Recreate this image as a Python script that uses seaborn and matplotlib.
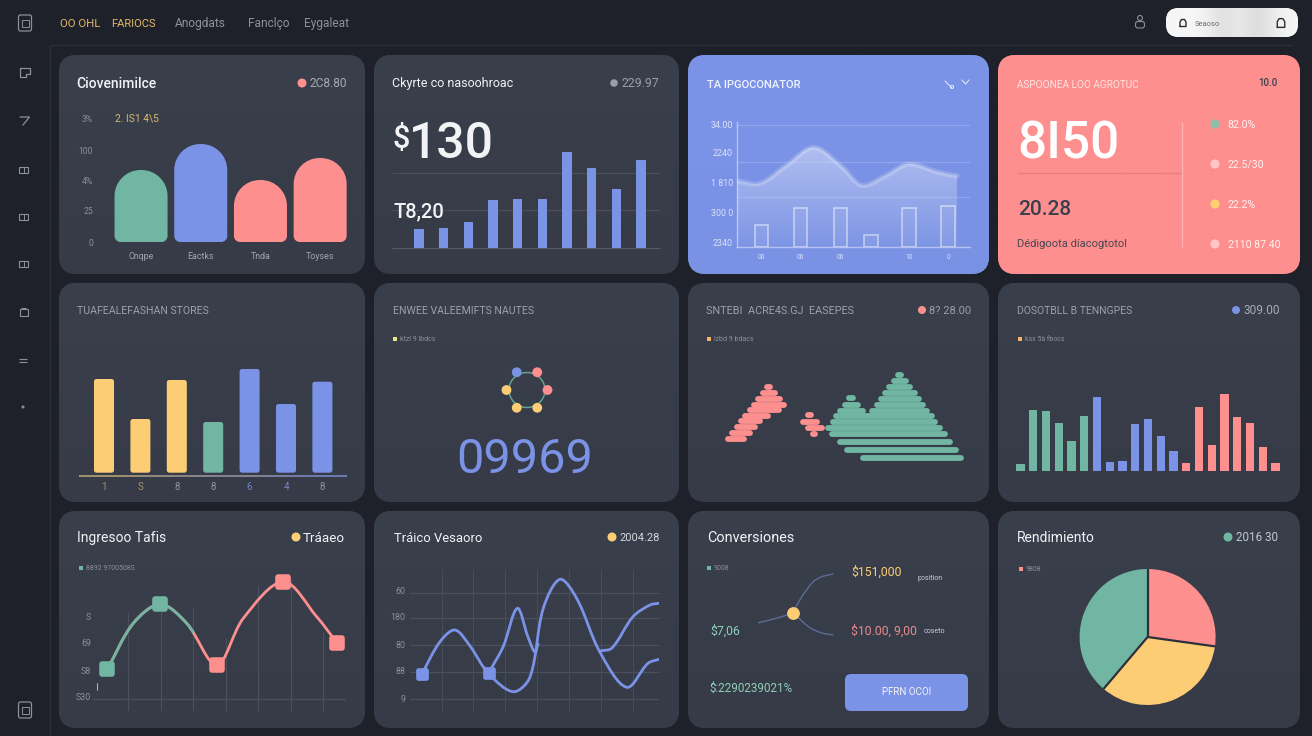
import numpy as np
import matplotlib
matplotlib.use("Agg")
import matplotlib.pyplot as plt
import seaborn as sns
from matplotlib.patches import FancyBboxPatch, PathPatch, Rectangle, Circle
from matplotlib.path import Path

sns.set_theme(style="dark")
plt.rcParams["font.family"] = ["Roboto", "DejaVu Sans"]
plt.rcParams["axes.unicode_minus"] = False

W, H = 1312, 736
BG = "#1e2129"
CARD_T, CARD_B = "#3a3f4c", "#363b47"
BLUE, CORAL, GREEN, YELLOW = "#7b93e6", "#fe8f8f", "#70b6a2", "#fccd74"
GRAY, WHITE, GRID = "#9aa0ab", "#f2f3f5", "#4b505d"

# ---------- data ----------
conv_cats = ["Cnqpe", "Eactks", "Tnda", "Toyses"]
conv_vals = [72, 98, 62, 84]
conv_ticks = [0, 31, 61, 92, 124]
conv_tick_labels = ["0", "25", "4%", "100", "3%"]

ckyrte_cats = list("abcdefghij")
ckyrte_vals = [19, 20, 26, 48, 49, 49, 96, 80, 59, 88]

area_x = [0, 2.3, 5, 7.7, 10.5, 12.5, 15, 17.2, 20, 22]
area_vals = [66, 63.5, 82, 99.5, 80, 61.5, 72, 83, 75, 71]
pulse_x = [2.47, 6.38, 10.35, 13.4, 17.2, 21.1]
pulse_vals = [22, 39, 39, 12, 39, 41]
area_ticks = [123, 95, 64, 34, 4]
area_tick_labels = ["34.00", "2240", "1 810", "300 0", "2340"]
pulse_ticks = [2.47, 6.38, 10.35, 17.2, 21.1]
pulse_tick_labels = ["00", "00", "00", "10", "0"]

store_cats = ["1", "S", "8", "8 ", "6", "4", "8  "]
store_vals = [93.7, 53.7, 92.7, 50.7, 103.7, 68.7, 91]
store_cols = [YELLOW, YELLOW, YELLOW, GREEN, BLUE, BLUE, BLUE]
store_tick_cols = ["#a9946c", "#a9946c", "#8f939e", "#8f939e", "#7386c8", "#7386c8", "#8f939e"]

ring_angles = [120, 60, 0, 180, 240, 300]
ring_cols = [BLUE, CORAL, CORAL, YELLOW, YELLOW, YELLOW]

green_rows = [375, 381, 387, 393, 399, 405, 411, 416, 422, 428, 434, 442, 450, 458]
green_rows2 = [398, 405, 411]
green_start = [895.5, 891, 886, 882, 878, 874, 869, 833, 830, 825.5, 829, 837.5, 844.6, 860]
green_stop = [903.5, 908, 912.5, 917, 921, 925, 929.5, 934, 937.7, 942.7, 947, 952.7, 958.5, 963.5]
green_start2 = [846, 842.3, 837.5]
green_stop2 = [855.5, 860, 865.4]
coral_rows = [387, 393, 398.7, 404.7, 410, 415.7, 421.3, 427.3, 433.3, 439, 415.3, 421.7, 427.7, 434]
coral_start = [764.4, 760, 755, 751, 747, 742.7, 738.6, 734, 729.4, 725, 805, 800, 805, 810.5]
coral_stop = [772, 777, 782, 786, 781, 770, 762, 757, 752, 746, 813, 819, 824, 817]

spark_cats = [f"b{i}" for i in range(21)]
spark_vals = [7, 61, 60, 47.7, 29.7, 55.3, 74, 8.7, 9.7, 47.3, 51.7, 35.3, 19.7, 7.7, 64, 26.3, 76.7, 54, 48, 23.7, 8]
spark_cols = [GREEN] * 6 + [BLUE] * 7 + [CORAL] * 8

ing_x = [107.3, 133.3, 160.3, 186.7, 216.7, 243.3, 283.3, 316.7, 337.3]
ing_vals = [29.7, 75.7, 94.7, 75.7, 34, 80.7, 117.3, 82.3, 55.7]
ing_grid_x = [128.3, 160.7, 193.3, 225.7, 258.3, 290.7, 323.3]
ing_grid_top = [86.7, 98, 90.7, 61.3, 114, 120, 67]
ing_nodes_x = [107.3, 160.3, 216.7, 283.3, 337.3]
ing_nodes_y = [29.7, 94.7, 34, 117.3, 55.7]
ing_node_cols = [GREEN, GREEN, CORAL, CORAL, CORAL]
ing_ticks = [83, 56, 29, 2]
ing_tick_labels = ["S", "69", "S8", "S30"]

tr_x = [421.7, 440, 455, 470, 488.3, 513.3, 530, 543.3, 560, 577, 600, 626.7, 648, 659]
tr_y = [24.7, 57.3, 69, 53, 25.7, 7.3, 22, 90.7, 119.7, 100, 46.7, 11.7, 35.7, 39.7]
spike_x = [488.3, 503, 517.3, 528, 535, 538]
spike_y = [25.7, 52, 90.7, 62, 46.7, 55]
upper_x = [600, 612, 633, 650, 659]
upper_y = [48, 51, 82.3, 94, 95.7]
tr_nodes_x = [421.7, 489.3]
tr_nodes_y = [24.7, 25.7]
tr_grid_h = [106, 80.7, 54, 26.7, 0]
tr_grid_v = [441.7, 473.3, 505.3, 537.3, 569.3, 601.3, 633.3]
tr_ticks = [108, 82, 55, 28, 1]
tr_tick_labels = ["60", "180", "80", "88", "9"]

fl_a_x, fl_a_y = [758.6, 781, 793], [622.7, 617, 612.7]
fl_b_x, fl_b_y = [793, 801, 813, 821, 833], [612.7, 598, 582, 577, 574]
fl_c_x, fl_c_y = [793, 809, 821, 833], [612.7, 627, 632.7, 635]

pie_vals = [27.2, 34.0, 38.8]
pie_cols = [CORAL, YELLOW, GREEN]

# ---------- helpers ----------
fig = plt.figure(figsize=(W / 100, H / 100), dpi=100, facecolor=BG)
bg = fig.add_axes([0, 0, 1, 1], zorder=-1)
bg.set_xlim(0, W); bg.set_ylim(H, 0); bg.axis("off")


def T(x, y, s, size=8, color=GRAY, ha="left", weight="normal", **kw):
    base = y + 0.355 * size * 100 / 72
    return fig.text(x / W, 1 - base / H, s, fontsize=size, color=color, ha=ha, va="baseline",
                    fontweight=weight, zorder=20, **kw)


def panel(x0, y0, x1, y1, xlim=None, ylim=None):
    ax = fig.add_axes([x0 / W, 1 - y1 / H, (x1 - x0) / W, (y1 - y0) / H], zorder=5)
    ax.patch.set_alpha(0)
    for s in ax.spines.values():
        s.set_visible(False)
    ax.grid(False)
    if xlim: ax.set_xlim(*xlim)
    if ylim: ax.set_ylim(*ylim)
    ax.tick_params(length=0)
    return ax


def tidy(ax, xlim, ylim):
    ax.set_xlim(*xlim); ax.set_ylim(*ylim)
    ax.set_xlabel(""); ax.set_ylabel("")
    ax.set_xticks([]); ax.set_yticks([])


def smooth_path(ax, x, y):
    """Bezier path through the read points, in data coordinates."""
    P = ax.transData.transform(np.column_stack([x, y]))
    d = np.hypot(*np.diff(P, axis=0).T)
    t = np.concatenate([[0], np.cumsum(d)])
    m = np.zeros_like(P)
    m[1:-1] = (P[2:] - P[:-2]) / (t[2:] - t[:-2])[:, None]
    m[0] = (P[1] - P[0]) / d[0]
    m[-1] = (P[-1] - P[-2]) / d[-1]
    v, c = [P[0]], [Path.MOVETO]
    for i in range(len(P) - 1):
        v += [P[i] + m[i] * d[i] / 3, P[i + 1] - m[i + 1] * d[i] / 3, P[i + 1]]
        c += [Path.CURVE4] * 3
    return np.array(ax.transData.inverted().transform(np.array(v))), c


def smooth_line(ax, x, y, color, lw, zorder=3):
    """Lines are drawn by seaborn's lineplot and then given a rounded (spline) shape."""
    sns.lineplot(x=x, y=y, color=color, lw=lw, sort=False, errorbar=None, ax=ax, zorder=zorder)
    ax.lines[-1].remove()
    v, c = smooth_path(ax, x, y)
    patch = PathPatch(Path(v, c), fc="none", ec=color, lw=lw, capstyle="round", joinstyle="round", zorder=zorder)
    ax.add_patch(patch)
    return patch


def gcard(x0, y0, x1, y1, top, bottom, r=18):
    box = FancyBboxPatch((x0, y0), x1 - x0, y1 - y0, boxstyle=f"round,pad=0,rounding_size={r}",
                         fc=top, ec="none", zorder=2)
    bg.add_patch(box)
    c0 = np.array(matplotlib.colors.to_rgb(top)); c1 = np.array(matplotlib.colors.to_rgb(bottom))
    g = np.linspace(0, 1, 64)[:, None, None] * (c1 - c0)[None, None, :] + c0[None, None, :]
    im = bg.imshow(g, extent=(x0, x1, y1, y0), aspect="auto", zorder=2.1, interpolation="bilinear")
    im.set_clip_path(box)
    bg.set_xlim(0, W); bg.set_ylim(H, 0)


def round_bars(ax, box_w, box_h, rtop, rbot):
    xl, yl = ax.get_xlim(), ax.get_ylim()
    sx = abs(xl[1] - xl[0]) / box_w
    sy = abs(yl[1] - yl[0]) / box_h
    k = 0.5523
    for p in list(ax.patches):
        x, y, w, h = p.get_x(), p.get_y(), p.get_width(), p.get_height()
        rtx = min(rtop * sx, w / 2); rty = min(rtop * sy, h / 2)
        rbx = min(rbot * sx, w / 2); rby = min(rbot * sy, h / 2)
        v = [(x + rbx, y), (x + w - rbx, y),
             (x + w - rbx + k * rbx, y), (x + w, y + rby - k * rby), (x + w, y + rby),
             (x + w, y + h - rty),
             (x + w, y + h - rty + k * rty), (x + w - rtx + k * rtx, y + h), (x + w - rtx, y + h),
             (x + rtx, y + h),
             (x + rtx - k * rtx, y + h), (x, y + h - rty + k * rty), (x, y + h - rty),
             (x, y + rby),
             (x, y + rby - k * rby), (x + rbx - k * rbx, y), (x + rbx, y), (x + rbx, y)]
        c = [Path.MOVETO, Path.LINETO, Path.CURVE4, Path.CURVE4, Path.CURVE4, Path.LINETO,
             Path.CURVE4, Path.CURVE4, Path.CURVE4, Path.LINETO, Path.CURVE4, Path.CURVE4, Path.CURVE4,
             Path.LINETO, Path.CURVE4, Path.CURVE4, Path.CURVE4, Path.CLOSEPOLY]
        new = PathPatch(Path(v, c), fc=p.get_facecolor(), ec="none", zorder=3)
        p.remove()
        ax.add_patch(new)


def hdr_dot(x, y, col, r=4.5):
    bg.add_patch(Circle((x, y), r, fc=col, ec="none", zorder=6))


def legend_sq(x, y, col, s, tx=None):
    bg.add_patch(Rectangle((x - 2, y - 2), 4, 4, fc=col, ec="none", zorder=6))
    T(tx if tx else x + 5, y, s, size=5, color="#8a8f9b")


def hline(x0, x1, y, col=GRID, lw=0.8, alpha=1):
    bg.plot([x0, x1], [y, y], color=col, lw=lw, alpha=alpha, zorder=3, solid_capstyle="butt")


def vline(x, y0, y1, col=GRID, lw=0.8, alpha=1):
    bg.plot([x, x], [y0, y1], color=col, lw=lw, alpha=alpha, zorder=3, solid_capstyle="butt")


def round_markers(ax, n, lw=3.6):
    for col in ax.collections:
        if col.get_offsets().shape[0] == n:
            col.set_edgecolor(col.get_facecolor()); col.set_linewidth(lw); col.set_joinstyle("round")


# ---------- chrome ----------
hline(50, 1293, 45, "#2a2d36", 1)
vline(50, 45, 736, "#2a2d36", 1)
ICON = "#8b9099"
for cy in (23, 710):
    bg.add_patch(FancyBboxPatch((18.5, cy - 8), 13, 16, boxstyle="round,pad=0,rounding_size=2", fc="none", ec=ICON, lw=0.9, zorder=3))
    bg.add_patch(Rectangle((21.5, cy - 3), 7, 7, fc="none", ec=ICON, lw=0.7, zorder=3))
bg.plot([20, 29.5, 29.5, 26, 26, 20, 20], [68, 68, 74, 74, 77, 77, 68], color=ICON, lw=0.9, zorder=3)
bg.plot([20, 29.5, 23], [117, 117, 125], color=ICON, lw=0.9, zorder=3)
for cy in (169.5, 217, 264):
    bg.add_patch(Rectangle((19, cy - 3), 9, 6, fc="none", ec=ICON, lw=0.8, zorder=3))
    vline(23.5, cy - 3, cy + 3, ICON, 0.7)
bg.add_patch(Rectangle((19.5, 309), 8, 7, fc="none", ec=ICON, lw=0.8, zorder=3))
hline(21, 26, 308, ICON, 0.8)
hline(19, 27, 358.5, ICON, 0.8)
hline(19, 27, 361.5, ICON, 0.8)
bg.add_patch(Circle((23, 407), 1.5, fc=ICON, ec="none", zorder=3))

T(60, 23, "OO OHL", size=8.2, color="#e3b868")
T(111, 23, "FARIOCS", size=8, color="#e3b868")
T(175, 23, "Anogdats", size=8.6, color="#8c919b")
T(248, 23, "Fanclço", size=8.6, color="#8c919b")
T(304, 23, "Eygaleat", size=8.6, color="#8c919b")

bg.add_patch(Circle((1140, 18), 2.5, fc="none", ec=ICON, lw=0.8, zorder=3))
bg.add_patch(FancyBboxPatch((1135.5, 21.5), 9, 6.5, boxstyle="round,pad=0,rounding_size=2.5", fc="none", ec=ICON, lw=0.8, zorder=3))

pill = FancyBboxPatch((1166, 8), 132, 29, boxstyle="round,pad=0,rounding_size=13", fc="#eeeeee", ec="none", zorder=2)
bg.add_patch(pill)
pg = np.array([[0.96, 0.97, 0.94, 0.86, 0.93, 0.84, 0.92, 0.96]])
im = bg.imshow(pg, cmap="gray", vmin=0, vmax=1, extent=(1166, 1298, 37, 8), aspect="auto", zorder=2.1, interpolation="bicubic")
im.set_clip_path(pill)
bg.set_xlim(0, W); bg.set_ylim(H, 0)
for cx, sc in ((1183, 1.0), (1281, 1.25)):
    bg.plot(np.array([-3, -3, -1.5, 1.5, 3, 3, -3]) * sc + cx, np.array([3.5, -1, -3.5, -3.5, -1, 3.5, 3.5]) * sc + 23,
            color="#2b2e36", lw=1.0, zorder=4)
T(1195, 23, "Seaoso", size=5.4, color="#666a72")

cols = [(59, 365), (374, 679), (688, 989), (998, 1300)]
rows = [(55, 274), (283, 502), (511, 728)]
for r, (y0, y1) in enumerate(rows):
    for c, (x0, x1) in enumerate(cols):
        if r == 0 and c == 2:
            gcard(x0, y0, x1, y1, "#7c94e8", "#7a92e4")
        elif r == 0 and c == 3:
            gcard(x0, y0, x1, y1, "#fe8f8f", "#fe8f8f")
        else:
            gcard(x0, y0, x1, y1, CARD_T, CARD_B)

# ---------- card 1 ----------
T(76, 83, "Ciovenimilce", size=10, color=WHITE, weight="medium")
hdr_dot(302, 83, CORAL)
T(309, 83, "2C8.80", size=8.6, color="#a6abb5")
T(115, 118, "2. IS1 4\\5", size=7.4, color="#d9b96e")
ax = panel(111.2, 118, 350, 242)
sns.barplot(x=conv_cats, y=conv_vals, hue=conv_cats, palette=[GREEN, BLUE, CORAL, CORAL], legend=False,
            saturation=1, width=0.888, linewidth=0, ax=ax)
tidy(ax, (-0.5, 3.5), (0, 124))
round_bars(ax, 238.8, 124, 26, 6)
ax.set_yticks(conv_ticks, conv_tick_labels)
ax.set_xticks(range(4), conv_cats)
ax.tick_params(axis="y", pad=13, labelsize=6.2, colors="#8a8f9b", length=0)
ax.tick_params(axis="x", pad=7, labelsize=6.4, colors="#a0a5af", length=0)

# ---------- card 2 ----------
T(392, 83, "Ckyrte co nasoohroac", size=9, color=WHITE)
hdr_dot(614, 83, "#9a9ea6", 3.8)
T(622, 83, "229.97", size=8.8, color="#9aa0ab")
hline(392, 660, 173); hline(392, 660, 210); hline(392, 660, 248, "#555a67")
T(392, 137, "$", size=22, color=WHITE, weight="medium")
T(409, 140, "130", size=36, color=WHITE, weight="medium")
T(394, 210, "T8,20", size=14.5, color=WHITE, weight="medium")
ax = panel(406.7, 150, 653.3, 248)
sns.barplot(x=ckyrte_cats, y=ckyrte_vals, color=BLUE, saturation=1, width=0.385, linewidth=0, ax=ax)
tidy(ax, (-0.5, 9.5), (0, 98))

# ---------- card 3 ----------
T(707, 84, "TA IPGOCONATOR", size=8, color="#f0f3fd", weight="medium")
bg.plot([945, 952], [81, 88], color="#dfe5fb", lw=0.8, zorder=6)
bg.add_patch(Circle((952, 87), 1.6, fc="none", ec="#dfe5fb", lw=0.7, zorder=6))
bg.plot([962, 965.5, 969], [80, 84, 80], color="#dfe5fb", lw=0.8, zorder=6)
ax = panel(737, 122, 970, 247)
for y in (122, 85, 50):
    ax.axhline(y, color=(1, 1, 1, 0.16), lw=0.9, zorder=1)
sns.barplot(x=pulse_x, y=pulse_vals, native_scale=True, width=0.436, ax=ax)
for p in ax.patches:
    p.set_facecolor((1, 1, 1, 0.05)); p.set_edgecolor((1, 1, 1, 0.5)); p.set_linewidth(1.2); p.set_zorder(4)
tidy(ax, (0, 23.3), (0, 125))
v, c = smooth_path(ax, area_x, area_vals)
v2 = np.vstack([v, [[area_x[-1], 0], [area_x[0], 0], v[0]]])
c2 = c + [Path.LINETO, Path.LINETO, Path.CLOSEPOLY]
area = PathPatch(Path(v2, c2), fc="none", ec="none", transform=ax.transData)
ax.add_patch(area)
ga = np.zeros((100, 2, 4)); ga[..., :3] = 1
ga[..., 3] = np.linspace(0.40, 0.03, 100)[:, None]
im = ax.imshow(ga, extent=(0, 22, 0, 100), aspect="auto", zorder=2, origin="upper")
im.set_clip_path(area)
tidy(ax, (0, 23.3), (0, 125))
smooth_line(ax, area_x, area_vals, (1, 1, 1, 0.18), 3.8)
smooth_line(ax, area_x, area_vals, (1, 1, 1, 0.16), 1.0)
tidy(ax, (0, 23.3), (0, 125))
for side in ("left", "bottom"):
    ax.spines[side].set_visible(True); ax.spines[side].set_color((1, 1, 1, 0.45)); ax.spines[side].set_linewidth(1)
ax.set_yticks(area_ticks, area_tick_labels)
ax.set_xticks(pulse_ticks, pulse_tick_labels)
ax.tick_params(axis="y", labelsize=6.4, colors="#dbe2fa", length=0, pad=3)
ax.tick_params(axis="x", labelsize=4.8, colors="#dbe2fa", length=0, pad=5)

# ---------- card 4 ----------
T(1017, 84, "ASPOONEA LOO AGROTUC", size=7.2, color="#ffe3e3")
T(1277, 83, "10.0", size=7, color="#3a3f4c", ha="right", weight="medium")
T(1017, 140, "8I50", size=37, color="#ffffff", weight="medium")
hline(1017, 1182, 173, "#e57c7e", 1)
vline(1182, 122, 247, "#ffb0b0", 1)
T(1018, 208, "20.28", size=15, color="#3a3f4c", weight="medium")
T(1017, 243, "Dédigoota díacogtotol", size=8, color="#4a4650")
for cy, col, s, tx in ((124, "#8ebfa9", "82.0%", 1227), (164, "#ffc6c6", "22.5/30", 1227),
                       (204, "#fbd172", "22.2%", 1227), (244, "#ffc6c6", "2110 87.40", 1228)):
    hdr_dot(1215, cy, col, 4.6)
    T(tx, cy, s, size=7.6, color="#fff0f0")

# ---------- card 5 ----------
T(77, 310, "TUAFEALEFASHAN STORES", size=7.6, color=GRAY)
ax = panel(85.8, 365, 340.6, 472.7)
sns.barplot(x=store_cats, y=store_vals, hue=store_cats, palette=store_cols, legend=False, saturation=1,
            width=0.55, linewidth=0, ax=ax)
tidy(ax, (-0.5, 6.5), (0, 107.7))
round_bars(ax, 254.8, 107.7, 2.5, 2.5)
ax.set_xticks(range(7), [s.strip() for s in store_cats])
ax.tick_params(axis="x", pad=6.5, labelsize=7, length=0)
for lab, col in zip(ax.get_xticklabels(), store_tick_cols):
    lab.set_color(col)
gcm = matplotlib.colors.LinearSegmentedColormap.from_list("g", ["#a08f6a", "#6b79ae"])
bg.imshow(np.array([[0, 0.45, 0.55, 1]]), cmap=gcm, extent=(79, 347, 477, 475), aspect="auto", zorder=3, interpolation="bilinear")
bg.set_xlim(0, W); bg.set_ylim(H, 0)

# ---------- card 6 ----------
T(393, 310, "ENWEE VALEEMIFTS NAUTES", size=7.6, color=GRAY)
legend_sq(395, 339, "#e4e58c", "ktzl 9 lbdcs")
ax = panel(496, 362, 558, 418, (-31, 31), (-28, 28))
th = np.radians(np.arange(0, 361, 6))
ax.plot(18 * np.cos(th), 17.5 * np.sin(th), color="#62a391", lw=1.1, zorder=2)
ra = np.radians(ring_angles)
sns.scatterplot(x=20.5 * np.cos(ra), y=20.5 * np.sin(ra), hue=[str(i) for i in range(6)], palette=ring_cols,
                s=50, linewidth=0, legend=False, ax=ax, zorder=3)
tidy(ax, (-31, 31), (-28, 28))
T(524.5, 456, "09969", size=35, color=BLUE, ha="center")

# ---------- card 7 ----------
T(706, 310, "SNTEBI  ACRE4S.GJ  EASEPES", size=7.8, color=GRAY)
hdr_dot(922, 310, CORAL, 4)
T(929, 310, "8? 28.00", size=8, color="#9aa0ab")
legend_sq(709, 339, "#f6b26e", "lzbd 9 bdacs")
ax = panel(688, 283, 989, 502, (688, 989), (502, 283))
ax.hlines(green_rows, np.array(green_start) + 2.5, np.array(green_stop) - 2.5, color=GREEN, lw=4.2, capstyle="round")
ax.hlines(green_rows2, np.array(green_start2) + 2.5, np.array(green_stop2) - 2.5, color=GREEN, lw=4.2, capstyle="round")
ax.hlines(coral_rows, np.array(coral_start) + 2.5, np.array(coral_stop) - 2.5, color=CORAL, lw=4.2, capstyle="round")
tidy(ax, (688, 989), (502, 283))

# ---------- card 8 ----------
T(1017, 310, "DOSOTBLL B TENNGPES", size=7.5, color=GRAY)
hdr_dot(1236, 310, BLUE, 4)
T(1243, 310, "309.00", size=8.6, color="#a6abb5")
legend_sq(1020, 339, "#f6b26e", "ksx 5à fbocs")
ax = panel(1014.1, 390, 1281.8, 471)
sns.barplot(x=spark_cats, y=spark_vals, hue=spark_cats, palette=spark_cols, legend=False, saturation=1,
            width=0.65, linewidth=0, ax=ax)
tidy(ax, (-0.5, 20.5), (0, 81))

# ---------- card 9 ----------
T(77, 537, "Ingresoo Tafis", size=10, color=WHITE)
hdr_dot(296, 537, YELLOW)
T(303, 537, "Tráaeo", size=9.6, color=WHITE)
legend_sq(81, 568, GREEN, "8892 9700508S", tx=86)
ax = panel(93, 570, 346, 711, (93, 346), (-12, 129))
ax.vlines(ing_grid_x, -12, ing_grid_top, color=GRID, lw=0.8, zorder=1)
ax.axhline(0, color=GRID, lw=0.9, zorder=1)
ax.plot([97, 97], [9, 16], color="#c9ccd3", lw=0.6)
coral_part = smooth_line(ax, ing_x, ing_vals, CORAL, 2.0)
green_part = smooth_line(ax, ing_x, ing_vals, GREEN, 2.0)
green_part.set_clip_path(Rectangle((93, -12), 100, 141, transform=ax.transData))
sns.scatterplot(x=ing_nodes_x, y=ing_nodes_y, hue=[str(i) for i in range(5)], palette=ing_node_cols, marker="s",
                s=52, legend=False, ax=ax, zorder=4)
round_markers(ax, 5, lw=4.0)
tidy(ax, (93, 346), (-12, 129))
ax.set_yticks(ing_ticks, ing_tick_labels)
ax.tick_params(axis="y", labelsize=6.4, colors="#8a8f9b", length=0, pad=1.5)

# ---------- card 10 ----------
T(394, 537, "Tráico Vesaoro", size=9.4, color=WHITE)
hdr_dot(612, 537, YELLOW)
T(619, 537, "2004.28", size=8, color="#d5d7dc")
ax = panel(410, 569, 659, 711, (410, 659), (-12, 130))
ax.hlines(tr_grid_h, 410, 659, color=GRID, lw=0.9, zorder=1)
ax.vlines(tr_grid_v, -12, 130, color="#474c59", lw=0.8, zorder=1)
for xs, ys in ((tr_x, tr_y), (spike_x, spike_y), (upper_x, upper_y)):
    smooth_line(ax, xs, ys, BLUE, 2.0)
sns.scatterplot(x=tr_nodes_x, y=tr_nodes_y, color=BLUE, marker="s", s=36, ax=ax, zorder=4)
round_markers(ax, 2, lw=3.4)
tidy(ax, (410, 659), (-12, 130))
ax.set_yticks(tr_ticks, tr_tick_labels)
ax.tick_params(axis="y", labelsize=6.4, colors="#8a8f9b", length=0, pad=3.5)

# ---------- card 11 ----------
T(707, 537, "Conversiones", size=10.4, color=WHITE)
legend_sq(709, 568, GREEN, "9008", tx=714)
ax = panel(688, 511, 989, 728, (688, 989), (728, 511))
for xs, ys in ((fl_a_x, fl_a_y), (fl_b_x, fl_b_y), (fl_c_x, fl_c_y)):
    smooth_line(ax, xs, ys, "#5d6c96", 1.0, zorder=2)
sns.scatterplot(x=[793], y=[612.7], color=YELLOW, s=85, linewidth=0, ax=ax, zorder=3)
tidy(ax, (688, 989), (728, 511))
T(851, 571, "$151,000", size=8.8, color=YELLOW)
T(917, 578, "position", size=5, color="#c9ccd3")
T(710, 630, "$7,06", size=8.8, color="#8ed0b8")
T(851, 630, "$10.00, 9,00", size=8.8, color="#e88b8d")
T(924, 631, "coseto", size=5, color="#c9ccd3")
T(709, 688, "$:2290239021%", size=8.4, color="#8ed0b8")
bg.add_patch(FancyBboxPatch((845, 674), 123, 37, boxstyle="round,pad=0,rounding_size=6", fc=BLUE, ec="none", zorder=4))
T(906.5, 692, "PFRN OCOI", size=7, color=WHITE, ha="center")

# ---------- card 12 ----------
T(1017, 537, "Rendimiento", size=10, color=WHITE)
hdr_dot(1228, 537, GREEN)
T(1236, 537, "2016 30", size=8.4, color="#c4c7ce")
legend_sq(1021, 569, CORAL, "9808", tx=1026)
ax = panel(1079.6, 569, 1215.6, 705)
ax.pie(pie_vals, colors=pie_cols, startangle=90, counterclock=False, radius=1, wedgeprops=dict(linewidth=0))
bounds = np.radians(90 - 3.6 * np.concatenate([[0], np.cumsum(pie_vals)[:-1]]))
for a in bounds:
    ax.plot([0, np.cos(a)], [0, np.sin(a)], color="#2c303b", lw=1.6, solid_capstyle="butt", zorder=5)
ax.set_xlim(-1, 1); ax.set_ylim(-1, 1)

fig.savefig("out.png", dpi=100, facecolor=BG)
